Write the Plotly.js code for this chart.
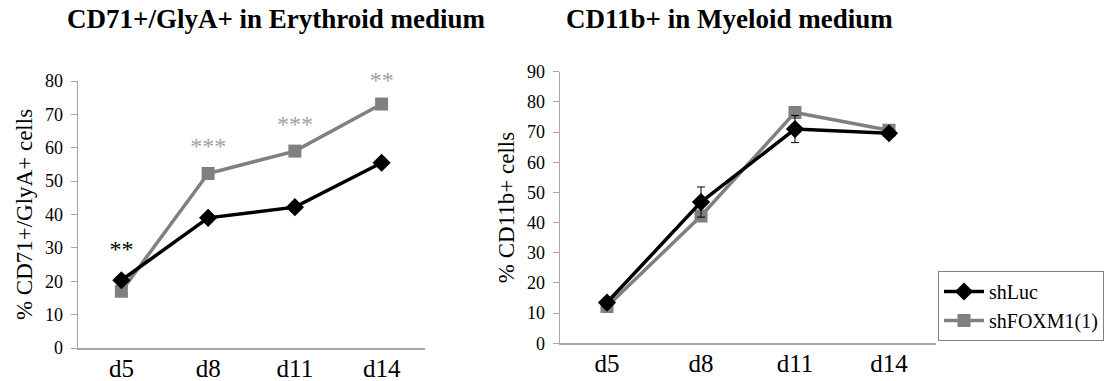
<!DOCTYPE html>
<html><head><meta charset="utf-8">
<script src="https://cdn.plot.ly/plotly-3.0.1.min.js"></script>
<style>html,body{margin:0;padding:0;background:#fff}#c{width:1108px;height:381px}</style>
</head><body><div id="c"></div>
<script>
const days = ['d5','d8','d11','d14'];
const eryLuc = [20.3, 39, 42.2, 55.5];
const eryLucErr = [0.8, 0.8, 0.8, 1.2];
const eryFox = [17, 52.3, 59, 73.1];
const eryFoxErr = [0.8, 0.8, 0.8, 0.8];
const myeLuc = [13.5, 46.8, 71, 69.6];
const myeLucErr = [1, 5, 4.5, 1.2];
const myeFox = [12.2, 42.2, 76.5, 70.6];
const myeFoxErr = [0.5, 0.8, 0.8, 0.8];
const sigLabels = ['**','***','***','**'];
const sigY = [29, 60, 66.5, 79.8];
const sigColors = ['#000000','#a0a0a0','#a0a0a0','#a0a0a0'];

const serif = "'Liberation Serif', 'Times New Roman', serif";
const lucStyle = {line:{color:'#000',width:3.5}, marker:{symbol:'diamond',size:14,color:'#000'}};
const foxStyle = {line:{color:'#808080',width:3.5}, marker:{symbol:'square',size:13,color:'#808080'}};

const traces = [
  Object.assign({x:days,y:eryFox,type:'scatter',mode:'lines+markers',name:'shFOXM1(1)',showlegend:false,xaxis:'x',yaxis:'y',
    error_y:{type:'data',array:eryFoxErr,color:'#808080',thickness:1,width:3}}, foxStyle),
  Object.assign({x:days,y:eryLuc,type:'scatter',mode:'lines+markers',name:'shLuc',showlegend:false,xaxis:'x',yaxis:'y',
    error_y:{type:'data',array:eryLucErr,color:'#000',thickness:1,width:3}}, lucStyle),
  Object.assign({x:days,y:myeFox,type:'scatter',mode:'lines+markers',name:'shFOXM1(1)',showlegend:true,legendrank:2,xaxis:'x2',yaxis:'y2',
    error_y:{type:'data',array:myeFoxErr,color:'#808080',thickness:1,width:3}}, foxStyle),
  Object.assign({x:days,y:myeLuc,type:'scatter',mode:'lines+markers',name:'shLuc',showlegend:true,legendrank:1,xaxis:'x2',yaxis:'y2',
    error_y:{type:'data',array:myeLucErr,color:'#000',thickness:1,width:4}}, lucStyle),
  {x:days,y:sigY,type:'scatter',mode:'text',text:sigLabels,showlegend:false,hoverinfo:'skip',cliponaxis:false,xaxis:'x',yaxis:'y',
    textposition:'middle center',textfont:{family:serif,size:24,color:sigColors}}
];

const axisCommon = {showgrid:false,zeroline:false,showline:true,linecolor:'#a6a6a6',linewidth:1.5};
const layout = {
  width:1108,height:381,margin:{l:0,r:0,t:0,b:0},paper_bgcolor:'#fff',plot_bgcolor:'#fff',
  font:{family:serif,color:'#000'},
  xaxis:Object.assign({domain:[78/1108,425/1108],anchor:'y',type:'category',range:[-0.5,3.5],ticks:'',
    tickfont:{size:25,family:serif},ticklabelstandoff:-3},axisCommon),
  yaxis:Object.assign({domain:[33/381,300/381],anchor:'x',range:[0,80],dtick:10,ticks:'outside',ticklen:6,tickcolor:'#a6a6a6',
    tickfont:{size:18,family:serif},ticklabelstandoff:4,title:{text:'% CD71+/GlyA+ cells',font:{size:23,family:serif},standoff:6}},axisCommon),
  xaxis2:Object.assign({domain:[560/1108,936/1108],anchor:'y2',type:'category',range:[-0.5,3.5],ticks:'',
    tickfont:{size:25,family:serif},ticklabelstandoff:-3},axisCommon),
  yaxis2:Object.assign({domain:[37.7/381,309.3/381],anchor:'x2',range:[0,90],dtick:10,ticks:'outside',ticklen:6,tickcolor:'#a6a6a6',
    tickfont:{size:18,family:serif},ticklabelstandoff:4,title:{text:'% CD11b+ cells',font:{size:23,family:serif},standoff:6}},axisCommon),
  legend:{x:938/1108,y:(381-271)/381,xanchor:'left',yanchor:'top',bordercolor:'#808080',borderwidth:1,bgcolor:'#fff',
    font:{family:serif,size:20,color:'#000'},tracegroupgap:0,itemwidth:40},
  annotations:[
    {text:'<b>CD71+/GlyA+ in Erythroid medium</b>',xref:'paper',yref:'paper',x:276/1108,y:(381-19)/381,xanchor:'center',yanchor:'middle',showarrow:false,font:{family:serif,size:27,color:'#000'}},
    {text:'<b>CD11b+ in Myeloid medium</b>',xref:'paper',yref:'paper',x:729/1108,y:(381-19)/381,xanchor:'center',yanchor:'middle',showarrow:false,font:{family:serif,size:27,color:'#000'}}
  ]
};
Plotly.newPlot('c',traces,layout,{staticPlot:true});
</script></body></html>
